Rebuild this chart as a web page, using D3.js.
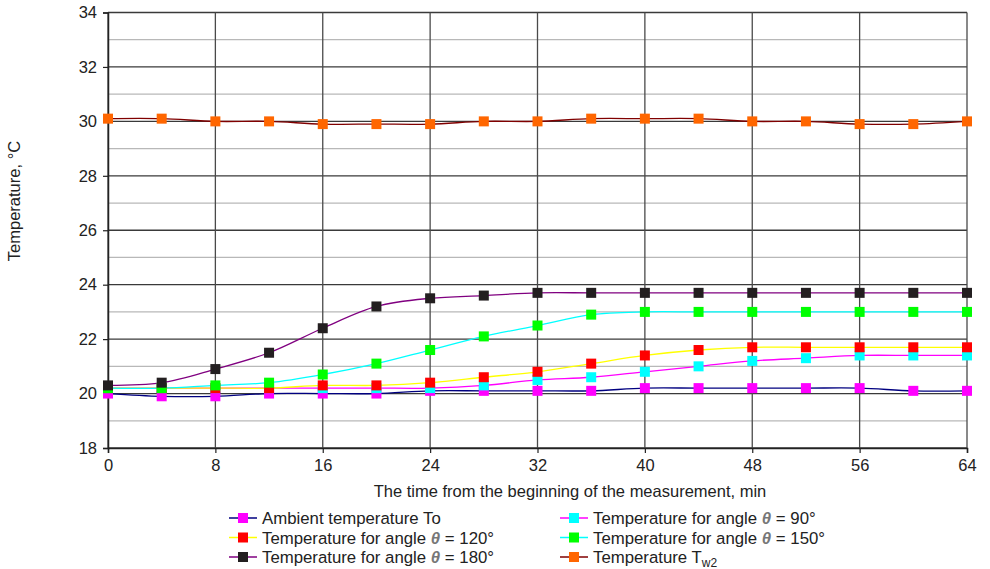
<!DOCTYPE html>
<html>
<head>
<meta charset="utf-8">
<script src="https://cdn.jsdelivr.net/npm/d3@7"></script>
<style>
  body { margin: 0; background: #fff; }
  text { font-family: "Liberation Sans", Arial, sans-serif; fill: #222; }
</style>
</head>
<body>
<div id="Canvas"></div>
<script>
// time points, min
let times = [0, 4, 8, 12, 16, 20, 24, 28, 32, 36, 40, 44, 48, 52, 56, 60, 64]
let xTicks = [0, 8, 16, 24, 32, 40, 48, 56, 64]
let yTicks = [18, 20, 22, 24, 26, 28, 30, 32, 34]

// series values
let ambient = [20.0, 19.9, 19.9, 20.0, 20.0, 20.0, 20.1, 20.1, 20.1, 20.1, 20.2, 20.2, 20.2, 20.2, 20.2, 20.1, 20.1]
let angle90 = [20.2, 20.2, 20.2, 20.2, 20.2, 20.2, 20.2, 20.3, 20.5, 20.6, 20.8, 21.0, 21.2, 21.3, 21.4, 21.4, 21.4]
let angle120 = [20.2, 20.2, 20.2, 20.2, 20.3, 20.3, 20.4, 20.6, 20.8, 21.1, 21.4, 21.6, 21.7, 21.7, 21.7, 21.7, 21.7]
let angle150 = [20.2, 20.2, 20.3, 20.4, 20.7, 21.1, 21.6, 22.1, 22.5, 22.9, 23.0, 23.0, 23.0, 23.0, 23.0, 23.0, 23.0]
let angle180 = [20.3, 20.4, 20.9, 21.5, 22.4, 23.2, 23.5, 23.6, 23.7, 23.7, 23.7, 23.7, 23.7, 23.7, 23.7, 23.7, 23.7]
let tw2 = [30.1, 30.1, 30.0, 30.0, 29.9, 29.9, 29.9, 30.0, 30.0, 30.1, 30.1, 30.1, 30.0, 30.0, 29.9, 29.9, 30.0]

// series list: label parts, line colour, marker colour
let seriesNames = ["Ambient temperature To", "Temperature for angle ", "Temperature for angle ", "Temperature for angle ", "Temperature for angle ", "Temperature T"]
let seriesAngles = ["", " = 90°", " = 120°", " = 150°", " = 180°", ""]
let lineColors = ["#000080", "#ff00ff", "#ffff00", "#00ffff", "#800080", "#800000"]
let markerColors = ["#ff00ff", "#00ffff", "#ff0000", "#00ff00", "#231f20", "#ff6600"]
let seriesValues = [ambient, angle90, angle120, angle150, angle180, tw2]

let width = 990, height = 569
let svg = d3.select("#Canvas")
    .append("svg")
    .attr("width", width)
    .attr("height", height)

let plotLeft = 108, plotRight = 967, plotTop = 12.5, plotBottom = 448

let xScale = d3.scaleLinear().domain([0, 64]).range([plotLeft, plotRight])
let yScale = d3.scaleLinear().domain([18, 34]).range([plotBottom, plotTop])

//網格 minor
svg.append("g")
    .selectAll("line")
    .data(d3.range(19, 34, 2))
    .enter()
    .append("line")
    .attr("x1", plotLeft).attr("x2", plotRight)
    .attr("y1", d => yScale(d)).attr("y2", d => yScale(d))
    .style("stroke", "#b8b8b8")
    .style("stroke-width", 1.3)

//網格 major
svg.append("g")
    .selectAll("line")
    .data(yTicks)
    .enter()
    .append("line")
    .attr("x1", plotLeft).attr("x2", plotRight)
    .attr("y1", d => yScale(d)).attr("y2", d => yScale(d))
    .style("stroke", "#3a3a3a")
    .style("stroke-width", 1.3)

svg.append("g")
    .selectAll("line")
    .data(xTicks)
    .enter()
    .append("line")
    .attr("x1", d => xScale(d)).attr("x2", d => xScale(d))
    .attr("y1", plotTop).attr("y2", plotBottom)
    .style("stroke", "#4a4a4a")
    .style("stroke-width", 1.3)

//axes
let yAxis = d3.axisLeft(yScale).tickValues(yTicks).tickSize(5).tickPadding(6)
let gy = svg.append("g").attr("transform", `translate(${plotLeft},0)`).call(yAxis)
let xAxis = d3.axisBottom(xScale).tickValues(xTicks).tickSize(5).tickPadding(6)
let gx = svg.append("g").attr("transform", `translate(0,${plotBottom})`).call(xAxis)
;[gx, gy].forEach(g => {
    g.select(".domain").style("stroke", "#222").style("stroke-width", 1.5)
    g.selectAll(".tick line").style("stroke", "#222").style("stroke-width", 1.2)
    g.selectAll(".tick text").style("font-size", "16.5px").style("fill", "#222")
        .style("font-family", "'Liberation Sans', Arial, sans-serif")
})

svg.append("text")
    .attr("x", 570)
    .attr("y", 497)
    .attr("text-anchor", "middle")
    .style("font-size", "16.5px")
    .text("The time from the beginning of the measurement, min")

svg.append("text")
    .attr("transform", "translate(20,201) rotate(-90)")
    .attr("text-anchor", "middle")
    .style("font-size", "16.5px")
    .text("Temperature, °C")

//lines
let line = d3.line()
    .x((d, i) => xScale(times[i]))
    .y(d => yScale(d))
    .curve(d3.curveCatmullRom.alpha(0.5))

seriesValues.forEach((vals, s) => {
    svg.append("path")
        .datum(vals)
        .attr("d", line)
        .style("fill", "none")
        .style("stroke", lineColors[s])
        .style("stroke-width", 1.3)
})

let ms = 10
seriesValues.forEach((vals, s) => {
    svg.append("g")
        .selectAll("rect")
        .data(vals)
        .enter()
        .append("rect")
        .attr("x", (d, i) => xScale(times[i]) - ms / 2)
        .attr("y", d => yScale(d) - ms / 2)
        .attr("width", ms)
        .attr("height", ms)
        .style("fill", markerColors[s])
})

//legend
let legend = svg.append("g")
seriesNames.forEach((name, s) => {
    let col = s % 2, row = Math.floor(s / 2)
    let lx = col === 0 ? 229 : 560
    let ly = 518 + row * 19.5
    legend.append("line")
        .attr("x1", lx).attr("x2", lx + 28)
        .attr("y1", ly).attr("y2", ly)
        .style("stroke", lineColors[s])
        .style("stroke-width", 1.5)
    legend.append("rect")
        .attr("x", lx + 14 - ms / 2).attr("y", ly - ms / 2)
        .attr("width", ms).attr("height", ms)
        .style("fill", markerColors[s])
    let t = legend.append("text")
        .attr("x", lx + 33)
        .attr("y", ly + 6)
        .style("font-size", "16.8px")
    t.append("tspan").text(name)
    if (seriesAngles[s] !== "") {
        t.append("tspan").style("font-style", "italic").style("font-weight", "bold").style("fill", "#777").text("θ")
        t.append("tspan").text(seriesAngles[s])
    }
    if (s === 5) {
        t.append("tspan").attr("dy", 4).style("font-size", "12px").text("w2")
    }
})
</script>
</body>
</html>
